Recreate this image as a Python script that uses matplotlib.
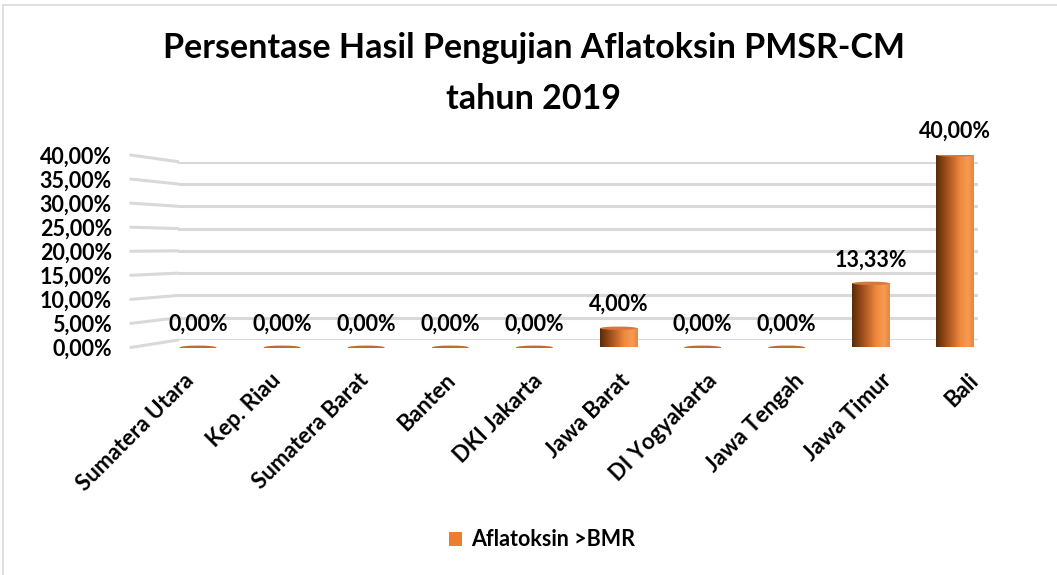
import numpy as np
import matplotlib.pyplot as plt
from matplotlib.patches import Ellipse, Patch, Rectangle, ConnectionPatch
from matplotlib.transforms import blended_transform_factory, ScaledTranslation
from matplotlib.colors import LinearSegmentedColormap

plt.rcParams['font.family'] = ['Lato', 'DejaVu Sans']
plt.rcParams['font.weight'] = 'bold'

# data
provinces = ["Sumatera Utara", "Kep. Riau", "Sumatera Barat", "Banten", "DKI Jakarta",
             "Jawa Barat", "DI Yogyakarta", "Jawa Tengah", "Jawa Timur", "Bali"]
pct = [0.0, 0.0, 0.0, 0.0, 0.0, 4.0, 0.0, 0.0, 13.33, 40.0]
yticks = [0, 5, 10, 15, 20, 25, 30, 35, 40]
series_name = "Aflatoksin >BMR"
title = "Persentase Hasil Pengujian Aflatoksin PMSR-CM\ntahun 2019"

W, H = 1057, 575
fig = plt.figure(figsize=(W / 100, H / 100), dpi=100)

grid_col = "#d9d9d9"
orange = "#ed7d31"

# chart area border (only left/top visible in the original crop)
fig.add_artist(Rectangle((3 / W, -0.1), 1.2, 1.1 - 5 / H, transform=fig.transFigure,
                         facecolor="none", edgecolor=grid_col, lw=1.2))

# back wall with the gridlines (3d perspective)
axg = fig.add_axes([178 / W, 1 - 340 / H, (978 - 178) / W, (340 - 161.7) / H])
axg.set_ylim(0, 40)
axg.set_xlim(0, 1)
axg.set_yticks(yticks)
axg.yaxis.grid(True, color=grid_col, lw=2.2)
axg.tick_params(left=False, bottom=False, labelleft=False, labelbottom=False)
for s in axg.spines.values():
    s.set_visible(False)
axg.patch.set_visible(False)

# front axes: bars, labels
ax = fig.add_axes([130.7 / W, 1 - 347.5 / H, (997 - 130.7) / W, (347.5 - 155) / H])
ax.patch.set_visible(False)
x = np.arange(len(provinces))
ax.set_yticks(yticks)
ax.set_yticklabels([f"{v:.2f}%".replace(".", ",") for v in yticks])
ax.set_xticks(x)
ax.set_xticklabels(provinces, rotation=45, ha="right", va="top", rotation_mode="anchor")
ax.tick_params(length=0, labelsize=15.5)
ax.tick_params(axis="y", pad=13.5)
ax.tick_params(axis="x", pad=16, labelsize=16)
# perspective shift of the category labels
n = len(provinces)
for i, lab in enumerate(ax.get_xticklabels()):
    dx = (-15 + 28 * i / (n - 1)) / 100
    lab.set_transform(lab.get_transform() + ScaledTranslation(dx, 0, fig.dpi_scale_trans))
for s in ax.spines.values():
    s.set_visible(False)

# side wall lines
tA = blended_transform_factory(ax.transAxes, ax.transData)
tB = blended_transform_factory(axg.transAxes, axg.transData)
for v in yticks:
    fig.add_artist(ConnectionPatch((0, v), (0, v), coordsA=tA, coordsB=tB,
                                   color=grid_col, lw=2.2, zorder=0))

# cylinder shading
cyl = LinearSegmentedColormap.from_list(
    "cyl", [(0, "#5a2c0a"), (0.3, "#a4521c"), (0.65, "#f08a3e"), (0.85, "#f79a52"), (1, "#e9873f")])
grad = cyl(np.linspace(0, 1, 64))[None, :, :]

w = 0.44
bars = ax.bar(x, pct, width=w, facecolor="none", edgecolor="none", zorder=2)
for b, xi, v in zip(bars, x, pct):
    if v > 0:
        im = ax.imshow(grad, extent=(xi - w / 2, xi + w / 2, 0, v), aspect="auto",
                       zorder=2, interpolation="bilinear")
        im.set_clip_path(b)
        ax.add_patch(Ellipse((xi, v), w, 0.7, facecolor="#d9773a", edgecolor="none", zorder=3))
    else:
        ax.add_patch(Ellipse((xi, v), w, 0.8, facecolor="#c8682c", edgecolor="none", zorder=3))
    ax.annotate(f"{v:.2f}%".replace(".", ","), (xi, v), xytext=(0, 17), textcoords="offset points",
                ha="center", va="center", fontsize=15.5, fontweight="bold")
ax.set_aspect("auto")
ax.set_xlim(-0.8, 9.5)
ax.set_ylim(0, 40)

fig.text(534 / W, 1 - 73.5 / H, title, ha="center", va="center", fontsize=24.5,
         fontweight="bold", linespacing=1.7)

fig.legend([Patch(facecolor=orange)], [series_name], loc="center",
           bbox_to_anchor=(542 / W, 1 - 540 / H), frameon=False, fontsize=15.5,
           handlelength=0.6, handleheight=0.6, handletextpad=0.4)

fig.savefig("out.png", dpi=100)
